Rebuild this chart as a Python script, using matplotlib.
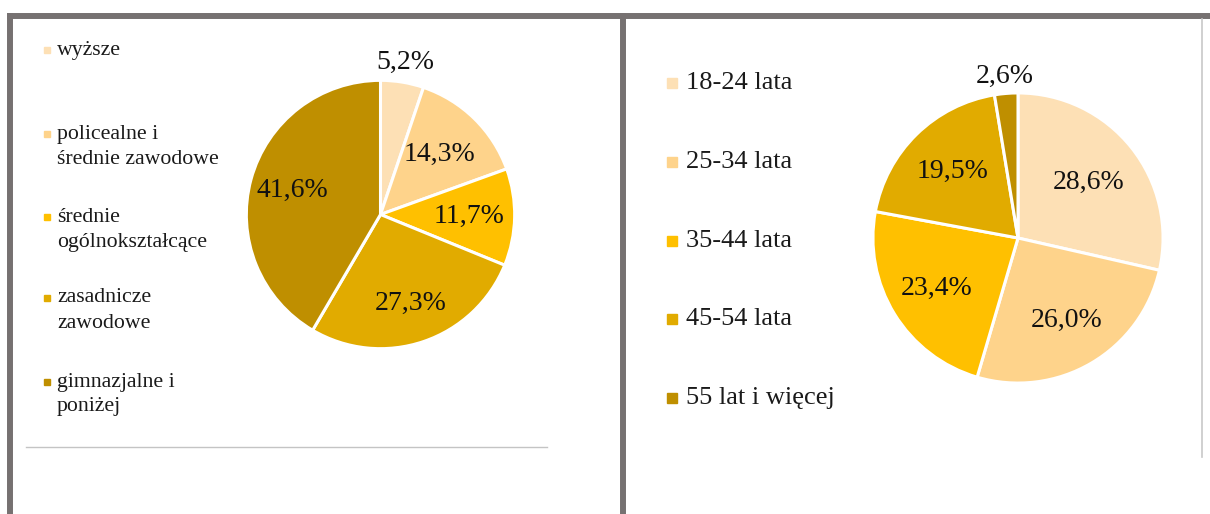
import numpy as np
import matplotlib
matplotlib.use("Agg")
import matplotlib.pyplot as plt
from matplotlib.lines import Line2D
from matplotlib.patches import Rectangle

plt.rcParams['font.family'] = ['Liberation Serif', 'DejaVu Serif']

# wykształcenie
edu_labels = ["wyższe", "policealne i\nśrednie zawodowe", "średnie\nogólnokształcące",
              "zasadnicze\nzawodowe", "gimnazjalne i\nponiżej"]
edu_values = [5.2, 14.3, 11.7, 27.3, 41.6]
edu_colors = ["#FDE0B5", "#FED38B", "#FFC000", "#E1AB00", "#BF8F00"]

# wiek
age_labels = ["18-24 lata", "25-34 lata", "35-44 lata", "45-54 lata", "55 lat i więcej"]
age_values = [28.6, 26.0, 23.4, 19.5, 2.6]
age_colors = ["#FDE0B5", "#FED38B", "#FFC000", "#E1AB00", "#BF8F00"]

W, H = 1210, 514
fig = plt.figure(figsize=(W / 100, H / 100), dpi=100)
fig.patch.set_facecolor("white")


def fx(x):
    return x / W


def fy(y):
    return 1 - y / H


def pie_axes(cx, cy, r):
    return fig.add_axes([fx(cx - r), fy(cy + r), 2 * r / W, 2 * r / H])


def draw_pie(ax, values, colors, dists, fs):
    wedges, _ = ax.pie(values, colors=colors, startangle=90, counterclock=False,
                       wedgeprops=dict(edgecolor="white", linewidth=2.2))
    ax.set_xlim(-1.01, 1.01)
    ax.set_ylim(-1.01, 1.01)
    ax.set_aspect("equal")
    ax.axis("off")
    for w, v, d in zip(wedges, values, dists):
        ang = np.deg2rad((w.theta1 + w.theta2) / 2)
        ax.text(d * np.cos(ang), d * np.sin(ang), ("%.1f%%" % v).replace(".", ","),
                ha="center", va="center", fontsize=fs, color="#111111")


ax1 = pie_axes(380.5, 214.5, 135.5)
draw_pie(ax1, edu_values, edu_colors, [1.15, 0.63, 0.66, 0.70, 0.68], 20)

ax2 = pie_axes(1018, 238, 146.5)
draw_pie(ax2, age_values, age_colors, [0.62, 0.66, 0.66, 0.64, 1.12], 20)

# legenda lewa
edu_rows = [50, 134, 217, 298, 382]
for lab, col, y in zip(edu_labels, edu_colors, edu_rows):
    fig.patches.append(Rectangle((fx(44), fy(y + 3)), 6 / W, 6 / H, color=col,
                                 transform=fig.transFigure))
    for i, line in enumerate(lab.split("\n")):
        fig.text(fx(57), fy(y + i * 25), line, ha="left", va="center",
                 fontsize=15.7, color="#1a1a1a")

# legenda prawa
age_rows = [83, 162, 241, 319, 398]
for lab, col, y in zip(age_labels, age_colors, age_rows):
    fig.patches.append(Rectangle((fx(667), fy(y + 5)), 10 / W, 10 / H, color=col,
                                 transform=fig.transFigure))
    fig.text(fx(686), fy(y), lab, ha="left", va="center", fontsize=19, color="#1a1a1a")

# ramki
frame = "#767171"
kw = dict(color=frame, lw=4.3, solid_capstyle="butt", transform=fig.transFigure)
fig.add_artist(Line2D([fx(7), fx(W)], [fy(16), fy(16)], **kw))
fig.add_artist(Line2D([fx(10), fx(10)], [fy(13), fy(H)], **kw))
fig.add_artist(Line2D([fx(623), fx(623)], [fy(13), fy(H)], **kw))
fig.add_artist(Line2D([fx(1201.5), fx(1201.5)], [fy(19), fy(457)], color="#c8c8c8", lw=1.2,
                      transform=fig.transFigure))
fig.add_artist(Line2D([fx(26), fx(547)], [fy(446.5), fy(446.5)], color="#c4c4c4", lw=1.0,
                      transform=fig.transFigure))

fig.savefig("out.png", dpi=100)
